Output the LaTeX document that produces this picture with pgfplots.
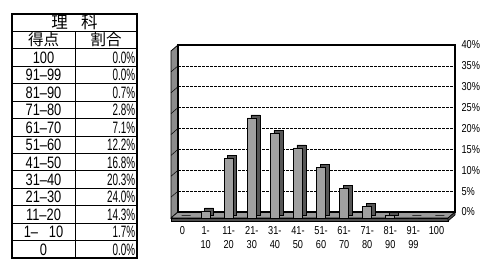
\documentclass[border=0pt]{standalone}
\usepackage{pgfplots}
\pgfplotsset{compat=1.18}
\usepackage{fontspec}
\setmainfont{Liberation Sans}
\newfontfamily\cjk{Noto Sans CJK JP}
\newfontfamily\condA[FakeStretch=0.78]{Liberation Sans}
\newfontfamily\condB[FakeStretch=0.6]{Liberation Sans}
\newfontfamily\condC[FakeStretch=0.8]{Liberation Sans}
\definecolor{wallgray}{HTML}{8C8C8C}
\definecolor{floorgray}{HTML}{9A9A9A}
\definecolor{barfront}{HTML}{A0A0A0}
\definecolor{barside}{HTML}{555555}
\begin{document}
\begin{tikzpicture}[x=1pt,y=1pt]
\path[use as bounding box] (0,0) rectangle (500,-271);
% ---------- table ----------
\def\rh{17.43}
\foreach \k in {1,...,13}{
  \draw[line width=1pt] (12,{-14-\k*\rh}) -- (137,{-14-\k*\rh});
}
\draw[line width=1pt] (75,{-14-\rh}) -- (75,-258);
\draw[line width=1.4pt] (12,-14) rectangle (137,-258);
\node[anchor=base,font=\cjk\fontsize{16.5}{16}\selectfont] at (74.5,{-14-\rh+3.2}) {理\hspace{0.8em}科};
\node[anchor=base,font=\cjk\fontsize{15.5}{15}\selectfont] at (43.5,{-14-2*\rh+3.0}) {得点};
\node[anchor=base,font=\cjk\fontsize{15.5}{15}\selectfont] at (106,{-14-2*\rh+3.0}) {割合};
\foreach \a/\b [count=\i] in {100/0.0\%,91\textendash99/0.0\%,81\textendash90/0.7\%,71\textendash80/2.8\%,61\textendash70/7.1\%,51\textendash60/12.2\%,41\textendash50/16.8\%,31\textendash40/20.3\%,21\textendash30/24.0\%,11\textendash20/14.3\%,1\textendash\ \ \ 10/1.7\%,0/0.0\%}{
  \node[anchor=base,inner sep=0pt,font=\condA\fontsize{16.5}{16}\selectfont] at (43.5,{-14-(\i+2)*\rh+2.8}) {\a};
  \node[anchor=base east,inner sep=0pt,font=\condB\fontsize{16.5}{16}\selectfont] at (135.5,{-14-(\i+2)*\rh+2.8}) {\b};
}
% ---------- 3D walls (decoration) ----------
\fill[wallgray,draw=black,line width=0.8pt] (171,-51) -- (178,-45) -- (178,-212) -- (171,-218) -- cycle;
\foreach \v in {1,...,7}{
  \draw[black,line width=0.5pt] (171,{-212+\v*20.875-6}) -- (178,{-212+\v*20.875});
}
\fill[floorgray,draw=black,line width=0.6pt] (171,-218) -- (178,-212) -- (455,-212) -- (448,-218) -- cycle;
\fill[gray!60!black,draw=black,line width=0.6pt] (171,-218) -- (448,-218) -- (448,-221) -- (171,-221) -- cycle;
\fill[gray!60!black,draw=black,line width=0.6pt] (448,-218) -- (455,-212) -- (455,-215) -- (448,-221) -- cycle;
% ---------- axis ----------
\begin{axis}[
  at={(178pt,-212pt)}, anchor=south west,
  scale only axis, width=277pt, height=167pt,
  xmin=-0.5, xmax=11.5, ymin=0, ymax=40,
  clip=false,
  axis line style={line width=1.3pt},
  ymajorgrids, major grid style={black, line width=0.75pt, dash pattern=on 2.5pt off 1.5pt},
  ytick={0,5,...,40},
  yticklabels={0\%,5\%,10\%,15\%,20\%,25\%,30\%,35\%,40\%},
  yticklabel pos=right,
  yticklabel style={font=\condC\fontsize{11.5}{11}\selectfont, xshift=3pt},
  xtick={0,...,11},
  xticklabels={0,{1-\\10},{11-\\20},{21-\\30},{31-\\40},{41-\\50},{51-\\60},{61-\\70},{71-\\80},{81-\\90},{91-\\99},100},
  xticklabel style={font=\condC\fontsize{11.5}{14}\selectfont, align=center, xshift=-7pt, yshift=-11pt, anchor=north},
  major tick length=0pt,
]
\addplot[ybar, bar width=9pt, bar shift=0pt, fill=barside, draw=black, line width=0.5pt, xshift=-3.5pt, yshift=-3pt] coordinates {
(0,0.0) (1,1.7) (2,14.3) (3,24.0) (4,20.3) (5,16.8) (6,12.2) (7,7.1) (8,2.8) (9,0.7) (10,0.0) (11,0.0)};
\addplot[ybar, bar width=9pt, bar shift=0pt, fill=barfront, draw=black, line width=0.6pt, xshift=-7pt, yshift=-6pt] coordinates {
(0,0.0) (1,1.7) (2,14.3) (3,24.0) (4,20.3) (5,16.8) (6,12.2) (7,7.1) (8,2.8) (9,0.7) (10,0.0) (11,0.0)};
\end{axis}
\end{tikzpicture}
\end{document}
